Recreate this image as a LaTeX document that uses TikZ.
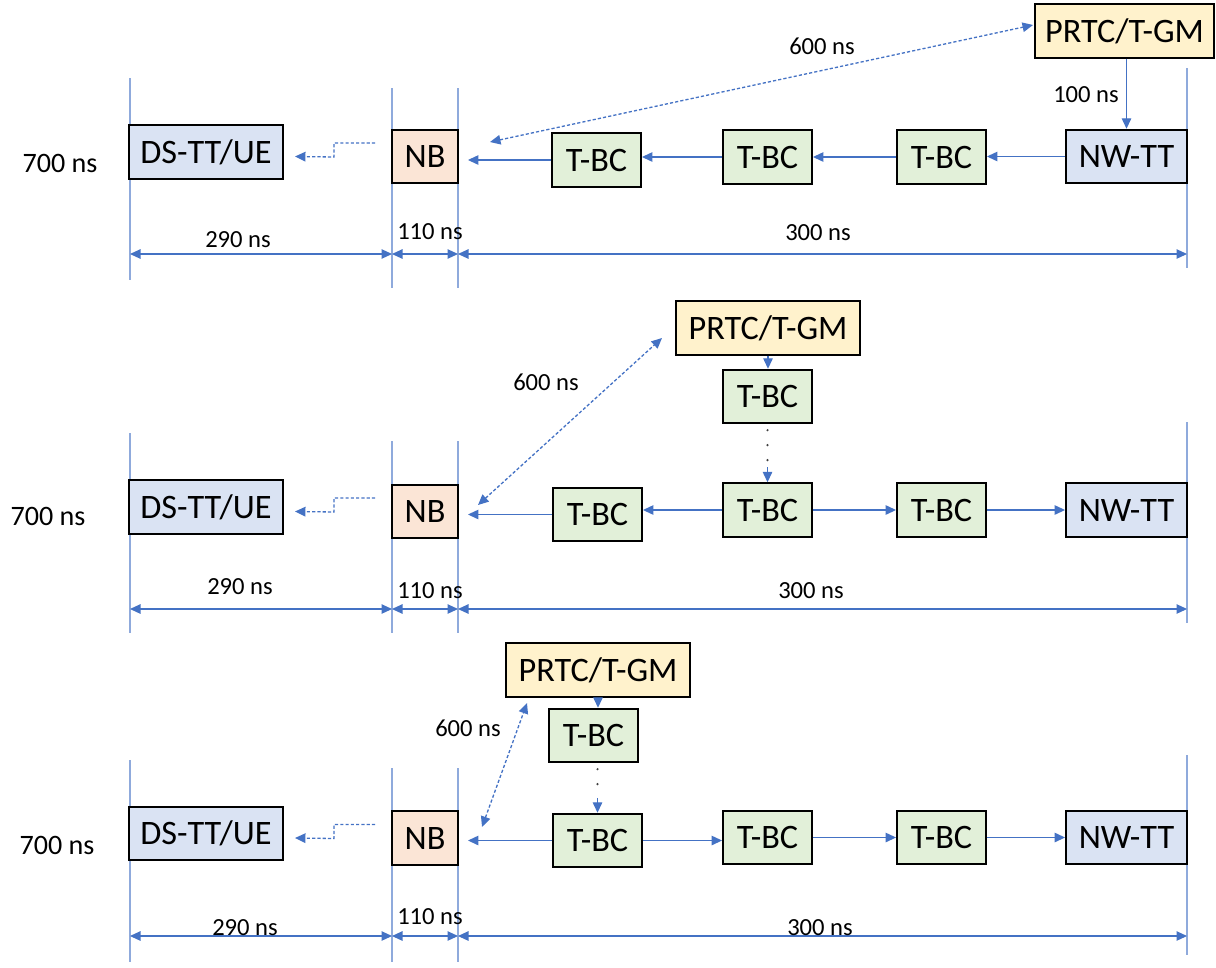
\documentclass[tikz,border=0pt]{standalone}
\usepackage{fontspec}
\setmainfont{Carlito}
\usepackage{tikz}
\usetikzlibrary{arrows.meta,positioning,calc}
\definecolor{tsnblue}{HTML}{DAE3F3}
\definecolor{tsnpeach}{HTML}{FBE5D6}
\definecolor{tsngreen}{HTML}{E2F0D9}
\definecolor{tsnyellow}{HTML}{FFF2CC}
\definecolor{tsnline}{HTML}{4472C4}
\definecolor{tsnrule}{HTML}{8FAADC}
\tikzset{
  box/.style={draw=black,line width=1.1pt,minimum height=1.07cm,inner sep=0pt,font=\fontsize{19.5}{22}\selectfont},
  ue/.style={box,fill=tsnblue,minimum width=3.08cm},
  nb/.style={box,fill=tsnpeach,minimum width=1.32cm},
  bc/.style={box,fill=tsngreen,minimum width=1.78cm},
  tt/.style={box,fill=tsnblue,minimum width=2.42cm},
  gm/.style={box,fill=tsnyellow,minimum width=3.68cm},
  link/.style={draw=tsnline,line width=0.75pt,-{Triangle[length=2.1mm,width=1.9mm]}},
  relay/.style={link,dash pattern=on 1.8pt off 1.2pt},
  sync/.style={draw=tsnline,line width=0.75pt,dash pattern=on 1.8pt off 1.2pt,{Triangle[length=2.1mm,width=1.9mm]}-{Triangle[length=2.1mm,width=1.9mm]}},
  dim/.style={draw=tsnline,line width=0.6pt,{Triangle[length=2.1mm,width=1.9mm]}-{Triangle[length=2.1mm,width=1.9mm]}},
  rule/.style={draw=tsnrule,line width=0.75pt},
  gap/.style={draw=black!75,line width=1.4pt,line cap=round,dash pattern=on 0pt off 8.5pt},
  lbl/.style={font=\fontsize{14}{16}\selectfont,inner sep=0pt},
  total/.style={font=\fontsize{16}{18}\selectfont,inner sep=0pt}
}
\begin{document}
\begin{tikzpicture}[x=0.02cm,y=-0.02cm]
\useasboundingbox (0,0) rectangle (1216,967);
% first case: grandmaster next to the NW-TT
\draw[rule] (130,78) -- (130,280);
\draw[rule] (392,88) -- (392,288);
\draw[rule] (458,88) -- (458,288);
\draw[rule] (1187,68) -- (1187,268);
\node[ue] (ds1) at (206,152) {DS-TT/UE};
\node[nb] (nb1) at (425,156.5) {NB};
\node[bc] (bcA1) at (596.5,160) {T-BC};
\node[bc] (bcB1) at (767.5,157) {T-BC};
\node[bc] (bcC1) at (941.5,157) {T-BC};
\node[tt] (nw1) at (1126.5,156.5) {NW-TT};
\node[gm,minimum width=3.58cm] (gm1) at (1124.5,31) {PRTC/T-GM};
\node[total] (sum1) at (60,163) {700 ns};
\node[lbl] (hop1) at (1086,95) {100 ns};
\node[lbl] (air1) at (822,46) {600 ns};
\draw[link] (nw1.north |- gm1.south) -- (nw1.north);
\draw[link] (nw1.west) -- (nw1.west -| bcC1.east);
\draw[link] (bcC1.west) -- (bcC1.west -| bcB1.east);
\draw[link] (bcB1.west) -- (bcB1.west -| bcA1.east);
\draw[link,shorten >=0.18cm] (bcA1.west) -- (bcA1.west -| nb1.east);
\draw[relay] ([xshift=-0.32cm,yshift=0.27cm]nb1.west) -| ++(-41,14) -- ([xshift=0.22cm]nb1.west -| ds1.east);
\coordinate (sA1) at (490,142);
\coordinate (sB1) at (1033,25);
\draw[sync] (sA1) -- (sB1);
\coordinate (mA1) at (130,254);
\coordinate (mB1) at (392,254);
\coordinate (mC1) at (458,254);
\coordinate (mD1) at (1187,254);
\draw[dim] (mA1) -- (mB1);
\draw[dim] (mB1) -- (mC1);
\draw[dim] (mC1) -- (mD1);
\node[lbl] (ueT1) at (238,240) {290 ns};
\node[lbl] (nbT1) at (430,232) {110 ns};
\node[lbl] (bhT1) at (818,233) {300 ns};
% second case: grandmaster above the middle T-BC
\draw[rule] (130,433) -- (130,633);
\draw[rule] (392,441) -- (392,633);
\draw[rule] (458,441) -- (458,633);
\draw[rule] (1187,422) -- (1187,623);
\node[ue] (ds2) at (206,507) {DS-TT/UE};
\node[nb] (nb2) at (425,511.5) {NB};
\node[bc] (bcA2) at (597.5,514.5) {T-BC};
\node[bc] (bcB2) at (767.5,510) {T-BC};
\node[bc] (bcC2) at (941.5,510) {T-BC};
\node[tt] (nw2) at (1126.5,510) {NW-TT};
\node[gm] (gm2) at (768,328) {PRTC/T-GM};
\node[bc] (bcU2) at (767.5,396.5) {T-BC};
\node[total] (sum2) at (48,516) {700 ns};
\node[lbl] (air2) at (546,382) {600 ns};
\draw[link] (gm2.south) -- (gm2.south |- bcU2.north);
\draw[gap,shorten <=0.12cm,shorten >=0.3cm] (bcU2.south) -- (bcB2.north);
\draw[link] ([yshift=0.3cm]bcB2.north) -- (bcB2.north);
\draw[link] (bcB2.west) -- (bcB2.west -| bcA2.east);
\draw[link,shorten >=0.18cm] (bcA2.west) -- (bcA2.west -| nb2.east);
\draw[link] (bcB2.east) -- (bcB2.east -| bcC2.west);
\draw[link] (bcC2.east) -- (bcC2.east -| nw2.west);
\draw[relay] ([xshift=-0.32cm,yshift=0.27cm]nb2.west) -| ++(-41,14) -- ([xshift=0.22cm]nb2.west -| ds2.east);
\coordinate (sA2) at (478,505);
\coordinate (sB2) at (662,338);
\draw[sync] (sA2) -- (sB2);
\coordinate (mA2) at (130,609);
\coordinate (mB2) at (392,609);
\coordinate (mC2) at (458,609);
\coordinate (mD2) at (1187,609);
\draw[dim] (mA2) -- (mB2);
\draw[dim] (mB2) -- (mC2);
\draw[dim] (mC2) -- (mD2);
\node[lbl] (ueT2) at (240,587) {290 ns};
\node[lbl] (nbT2) at (430,591) {110 ns};
\node[lbl] (bhT2) at (811,591) {300 ns};
% third case: grandmaster above the first T-BC
\draw[rule] (130,760) -- (130,962);
\draw[rule] (392,768) -- (392,962);
\draw[rule] (458,768) -- (458,962);
\draw[rule] (1187,755) -- (1187,955);
\node[ue] (ds3) at (206,833.5) {DS-TT/UE};
\node[nb] (nb3) at (425,838) {NB};
\node[bc] (bcA3) at (597.5,840.5) {T-BC};
\node[bc] (bcB3) at (767.5,837.5) {T-BC};
\node[bc] (bcC3) at (941.5,837.5) {T-BC};
\node[tt] (nw3) at (1126.5,837.5) {NW-TT};
\node[gm] (gm3) at (598,670) {PRTC/T-GM};
\node[bc] (bcU3) at (593.5,735.5) {T-BC};
\node[total] (sum3) at (57,845) {700 ns};
\node[lbl] (air3) at (468,728) {600 ns};
\draw[link] (gm3.south) -- (gm3.south |- bcU3.north);
\draw[gap,shorten <=0.12cm,shorten >=0.3cm] (bcU3.south -| bcA3.north) -- (bcA3.north);
\draw[link] ([yshift=0.3cm]bcA3.north) -- (bcA3.north);
\draw[link,shorten >=0.18cm] (bcA3.west) -- (bcA3.west -| nb3.east);
\draw[link] (bcA3.east) -- (bcA3.east -| bcB3.west);
\draw[link] (bcB3.east) -- (bcB3.east -| bcC3.west);
\draw[link] (bcC3.east) -- (bcC3.east -| nw3.west);
\draw[relay] ([xshift=-0.32cm,yshift=0.27cm]nb3.west) -| ++(-41,14) -- ([xshift=0.22cm]nb3.west -| ds3.east);
\coordinate (sA3) at (482,827);
\coordinate (sB3) at (527,703);
\draw[sync] (sA3) -- (sB3);
\coordinate (mA3) at (130,936);
\coordinate (mB3) at (392,936);
\coordinate (mC3) at (458,936);
\coordinate (mD3) at (1187,936);
\draw[dim] (mA3) -- (mB3);
\draw[dim] (mB3) -- (mC3);
\draw[dim] (mC3) -- (mD3);
\node[lbl] (ueT3) at (245,928) {290 ns};
\node[lbl] (nbT3) at (430,917) {110 ns};
\node[lbl] (bhT3) at (820,928) {300 ns};
\end{tikzpicture}
\end{document}
